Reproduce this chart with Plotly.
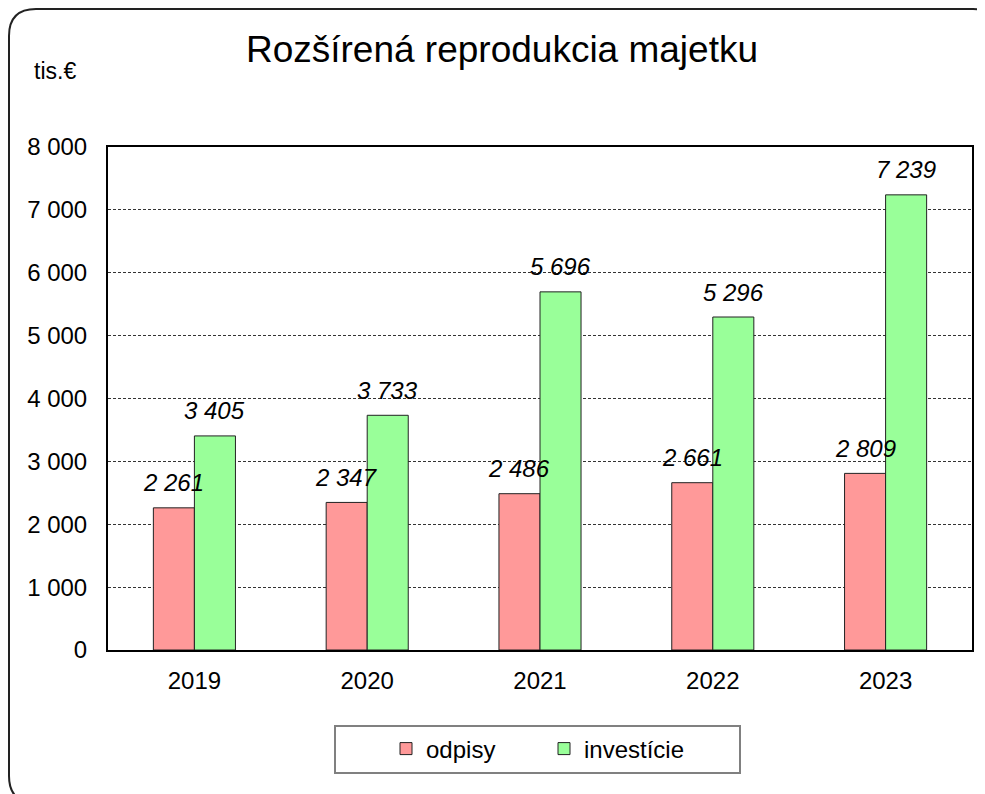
"""Rozšírená reprodukcia majetku - odpisy vs. investície (tis. EUR)."""

import plotly.graph_objs as go

years = ["2019", "2020", "2021", "2022", "2023"]
odpisy = [2261, 2347, 2486, 2661, 2809]
investicie = [3405, 3733, 5696, 5296, 7239]

FONT = "Liberation Sans, Arial, sans-serif"
PINK = "#FF9999"
GREEN = "#99FF99"

# the page body adds an 8px margin, so work in screen pixels and shift
OFF = 8
W, H = 985 - OFF, 794 - OFF
# plot area, screen pixels
PL, PR, PT, PB = 108, 972, 147, 650


def px_x(x):
    return (x - PL) / (PR - PL)


def px_y(y):
    return (PB - y) / (PB - PT)


def rounded_rect(x0, y0, x1, y1, r):
    """SVG path (paper coords) for a rounded rectangle given in screen pixels."""
    pts = [
        ("M", x0 + r, y0), ("L", x1 - r, y0), ("Q", x1, y0, x1, y0 + r),
        ("L", x1, y1 - r), ("Q", x1, y1, x1 - r, y1),
        ("L", x0 + r, y1), ("Q", x0, y1, x0, y1 - r),
        ("L", x0, y0 + r), ("Q", x0, y0, x0 + r, y0),
    ]
    parts = []
    for p in pts:
        cmd, coords = p[0], p[1:]
        xy = []
        for i in range(0, len(coords), 2):
            xy.append(f"{px_x(coords[i]):.5f},{px_y(coords[i + 1]):.5f}")
        parts.append(cmd + " ".join(xy))
    return " ".join(parts) + " Z"


fig = go.Figure()
fig.add_trace(go.Bar(
    x=years, y=odpisy, name="odpisy",
    marker=dict(color=PINK, line=dict(color="#222222", width=1)),
))
fig.add_trace(go.Bar(
    x=years, y=investicie, name="investície",
    marker=dict(color=GREEN, line=dict(color="#222222", width=1)),
))

# value labels above bars (x given as category index)
bar_px = (PR - PL) / len(years) * (1 - 0.525) / 2
for series, shift in ((odpisy, -bar_px / 2), (investicie, bar_px / 2)):
    for i, v in enumerate(series):
        fig.add_annotation(
            x=i, y=v, xref="x", yref="y",
            text=f"{v:,}".replace(",", " "),
            showarrow=False, xshift=shift, yshift=25, yanchor="middle",
            font=dict(family=FONT, size=24, color="black", style="italic"),
        )

fig.add_annotation(
    x=px_x(55), y=px_y(71), xref="paper", yref="paper",
    text="tis.€", showarrow=False, xanchor="center", yanchor="middle",
    font=dict(family=FONT, size=23, color="black"),
)

# outer rounded frame and legend box
fig.add_shape(type="path", xref="paper", yref="paper",
              path=rounded_rect(OFF + 1, OFF + 1, 1000, 803, 27),
              line=dict(color="#222222", width=2))
fig.add_shape(type="rect", xref="paper", yref="paper",
              x0=px_x(335), x1=px_x(740), y0=px_y(726), y1=px_y(773),
              line=dict(color="#808080", width=2), fillcolor="white", layer="below")

fig.update_layout(
    width=W, height=H,
    margin=dict(l=PL - OFF, r=985 - PR, t=PT - OFF, b=794 - PB),
    barmode="group", bargap=0.525, bargroupgap=0,
    separators=", ",
    paper_bgcolor="white", plot_bgcolor="white",
    font=dict(family=FONT, size=24, color="black"),
    title=dict(
        text="Rozšírená reprodukcia majetku",
        x=px_x(502), xref="paper", xanchor="center",
        y=1 - (49 - OFF) / H, yref="container", yanchor="middle",
        font=dict(family=FONT, size=37, color="black"),
    ),
    legend=dict(
        orientation="h", x=px_x(386), y=px_y(749), xanchor="left", yanchor="middle",
        bgcolor="rgba(0,0,0,0)", borderwidth=0,
        font=dict(family=FONT, size=24, color="black"),
        entrywidth=113, entrywidthmode="pixels",
    ),
    xaxis=dict(
        type="category", range=[-0.5, len(years) - 0.5], autorange=False,
        showline=True, linecolor="black", linewidth=2, mirror=True,
        ticks="", ticklabelstandoff=8, showgrid=False,
        tickfont=dict(family=FONT, size=24, color="black"),
    ),
    yaxis=dict(
        range=[0, 8000], autorange=False, dtick=1000, tickformat=",d",
        showline=True, linecolor="black", linewidth=2, mirror=True,
        showgrid=True, gridcolor="#333333", gridwidth=1, griddash="3px,2px",
        ticks="", ticklabelstandoff=14, zeroline=False,
        tickfont=dict(family=FONT, size=24, color="black"),
    ),
)

fig.write_html("out.html")
